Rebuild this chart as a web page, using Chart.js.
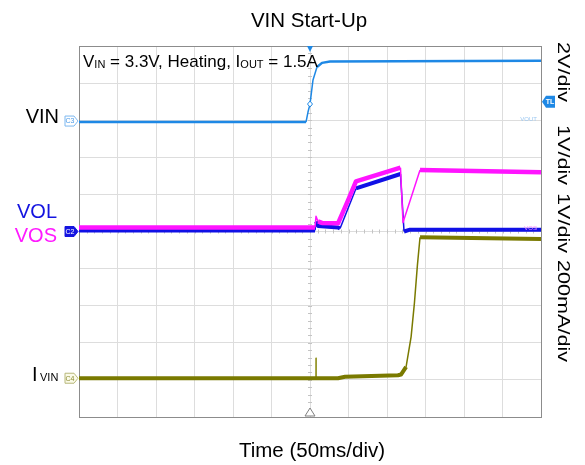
<!DOCTYPE html>
<html>
<head>
<meta charset="utf-8">
<script src="https://cdn.jsdelivr.net/npm/chart.js@4.4.1/dist/chart.umd.min.js"></script>
<style>
  html, body { margin: 0; padding: 0; background: #fff; }
  #wrap { width: 585px; height: 465px; }
</style>
</head>
<body>
<div id="wrap"><canvas id="scope" width="585" height="465"></canvas></div>
<script>
// time in ms (50ms/div, trigger at 0)
const vinTime  = [-300, -5.2, -2.6, 0, 3.9, 9.1, 15.6, 26, 300]
const vinVolts = [0, 0, 0.54, 0.97, 2.27, 2.97, 3.19, 3.27, 3.3]

const vosTime  = [-300, 6.5, 7.8, 10.4, 15.6, 36.4, 49.4, 59.7, 117.5, 120.8, 142.9, 300]
const vosVolts = [0.11, 0.11, 0.41, 0.27, 0.23, 0.22, 0.84, 1.35, 1.72, 0.24, 1.66, 1.6]

const volTime  = [-300, 6.5, 7.8, 10.4, 36.4, 39, 59.7, 117.5, 122.1, 129.9, 300]
const volVolts = [0.03, 0.03, 0.27, 0.15, 0.11, 0.08, 1.16, 1.55, 0, 0.05, 0.05]

const ivinTime = [-300, 36.4, 45.5, 114.3, 118.2, 124.8, 131.3, 135.6, 139.5, 142.9, 300]
const ivinAmps = [0, 0, 0.008, 0.016, 0.02, 0.061, 0.223, 0.405, 0.61, 0.76, 0.75]

// short glitch on the input current at the trigger
const spikeTime = [7.4, 7.8, 8.2]
const spikeAmps = [0, 0.11, 0]

const rightLabels = ["2V/div", "1V/div", "1V/div", "200mA/div"]

const pts = (xs, ys) => xs.map((x, i) => ({ x: x, y: ys[i] }))

// steep edges are drawn thin, like on the scope
const edgeWidth = (flat) => (c) => {
  const dx = Math.abs(c.p1.x - c.p0.x)
  const dy = Math.abs(c.p1.y - c.p0.y)
  return dy > 2.5 * dx ? 1.5 : flat
}

const font = (size) => size + 'px "Liberation Sans", Arial, sans-serif'

const scopeDecor = {
  id: 'scopeDecor',
  beforeDatasetsDraw(chart) {
    const { ctx, chartArea: a, scales } = chart
    const cx = scales.x.getPixelForValue(0)
    const cy = scales.yDiv.getPixelForValue(0)
    ctx.save()
    ctx.strokeStyle = '#c4c4c4'
    ctx.lineWidth = 1
    // minor ticks on the centre lines
    for (let v = -300; v <= 300; v += 10) {
      const px = Math.round(scales.x.getPixelForValue(v)) + 0.5
      ctx.beginPath(); ctx.moveTo(px, cy - 2); ctx.lineTo(px, cy + 2); ctx.stroke()
    }
    for (let d = -5; d <= 5; d += 0.2) {
      const py = Math.round(scales.yDiv.getPixelForValue(d)) + 0.5
      ctx.beginPath(); ctx.moveTo(cx - 2, py); ctx.lineTo(cx + 2, py); ctx.stroke()
    }
    ctx.strokeStyle = '#8c8c8c'
    ctx.strokeRect(Math.round(a.left) + 0.5, Math.round(a.top) + 0.5, Math.round(a.width), Math.round(a.height))
    ctx.restore()
  },
  afterDraw(chart) {
    const { ctx, chartArea: a, scales } = chart
    const cx = scales.x.getPixelForValue(0)
    ctx.save()
    ctx.fillStyle = '#000'
    ctx.textBaseline = 'alphabetic'
    ctx.font = font(20.5)
    ctx.textAlign = 'center'
    ctx.fillText('VIN Start-Up', 309, 27)
    ctx.fillText('Time (50ms/div)', 312, 457)

    // channel names on the left
    ctx.font = font(20)
    ctx.textAlign = 'right'
    ctx.fillText('VIN', 59, 123)
    ctx.fillStyle = '#1414e0'
    ctx.fillText('VOL', 57, 218)
    ctx.fillStyle = '#ff1aff'
    ctx.fillText('VOS', 57, 242)
    ctx.fillStyle = '#000'
    ctx.textAlign = 'left'
    ctx.fillText('I', 32, 381)
    ctx.font = font(11)
    ctx.fillText('VIN', 40, 381)

    // test condition
    let x = 83
    const y = 67
    const seg = (t, size, dy) => {
      ctx.font = font(size)
      ctx.fillText(t, x, y + dy)
      x += ctx.measureText(t).width
    }
    seg('V', 17, 0); seg('IN', 11, 1); seg(' = 3.3V, Heating, I', 17, 0); seg('OUT', 11, 1); seg(' = 1.5A', 17, 0)

    // volts/div labels, rotated and stretched along the reading direction
    ctx.translate(558, 0)
    ctx.rotate(Math.PI / 2)
    ctx.scale(1.27, 1)
    ctx.font = font(17)
    ctx.fillStyle = '#000'
    const starts = [42, 125, 193, 260]
    rightLabels.forEach((t, i) => ctx.fillText(t, starts[i] / 1.27, 0))
    ctx.restore()

    // channel markers
    const marker = (yPix, label, fill, stroke, text) => {
      ctx.save()
      ctx.beginPath()
      ctx.moveTo(65, yPix - 5); ctx.lineTo(74, yPix - 5); ctx.lineTo(78, yPix)
      ctx.lineTo(74, yPix + 5); ctx.lineTo(65, yPix + 5); ctx.closePath()
      if (fill) { ctx.fillStyle = fill; ctx.fill() }
      ctx.strokeStyle = stroke; ctx.lineWidth = 1; ctx.stroke()
      ctx.fillStyle = text
      ctx.font = font(7)
      ctx.textAlign = 'center'; ctx.textBaseline = 'middle'
      ctx.fillText(label, 70, yPix + 0.5)
      ctx.restore()
    }
    marker(scales.yVin.getPixelForValue(0) - 1, 'C3', null, '#7db8f0', '#4a9ae8')
    marker(scales.yVo.getPixelForValue(0), 'C2', '#1414e0', '#1414e0', '#fff')
    marker(scales.yI.getPixelForValue(0), 'C4', '#fafae8', '#b8b87a', '#8a8a30')

    // trigger level marker on the right
    const ty = scales.yVin.getPixelForValue(1.1)
    ctx.save()
    ctx.beginPath()
    ctx.moveTo(542, ty); ctx.lineTo(546, ty - 6); ctx.lineTo(555, ty - 6)
    ctx.lineTo(555, ty + 6); ctx.lineTo(546, ty + 6); ctx.closePath()
    ctx.fillStyle = '#1e88e5'; ctx.fill()
    ctx.fillStyle = '#fff'
    ctx.font = 'bold ' + font(7)
    ctx.textAlign = 'center'; ctx.textBaseline = 'middle'
    ctx.fillText('TL', 550, ty + 0.5)
    // faint trace tags
    ctx.font = font(6)
    ctx.textAlign = 'right'
    ctx.fillStyle = '#9cc8f2'
    ctx.fillText('VOUT', 537, scales.yVin.getPixelForValue(0) - 3)
    ctx.fillStyle = '#ff8cff'
    ctx.fillText('VOS', 537, scales.yVo.getPixelForValue(0) - 3)

    // trigger position markers
    ctx.beginPath()
    ctx.moveTo(cx - 3, a.top); ctx.lineTo(cx + 3, a.top); ctx.lineTo(cx, a.top + 6); ctx.closePath()
    ctx.fillStyle = '#1e88e5'; ctx.fill()
    ctx.beginPath()
    ctx.moveTo(cx - 5, a.bottom - 1); ctx.lineTo(cx + 5, a.bottom - 1); ctx.lineTo(cx, a.bottom - 9); ctx.closePath()
    ctx.fillStyle = '#fff'; ctx.fill()
    ctx.strokeStyle = '#808080'; ctx.stroke()
    // trigger point diamond
    const dy = scales.yVin.getPixelForValue(0.97)
    ctx.beginPath()
    ctx.moveTo(cx, dy - 3); ctx.lineTo(cx + 2.5, dy); ctx.lineTo(cx, dy + 3); ctx.lineTo(cx - 2.5, dy); ctx.closePath()
    ctx.fillStyle = '#fff'; ctx.fill()
    ctx.strokeStyle = '#1e88e5'; ctx.stroke()
    ctx.restore()
  }
}

new Chart(document.getElementById('scope'), {
  type: 'line',
  data: {
    datasets: [
      { label: 'IVIN', data: pts(ivinTime, ivinAmps), yAxisID: 'yI', borderColor: '#7a7a00', borderWidth: 4, segment: { borderWidth: edgeWidth(4) } },
      { label: 'IVIN glitch', data: pts(spikeTime, spikeAmps), yAxisID: 'yI', borderColor: '#9a9a30', borderWidth: 1 },
      { label: 'VIN', data: pts(vinTime, vinVolts), yAxisID: 'yVin', borderColor: '#1e88e5', borderWidth: 2.5, segment: { borderWidth: edgeWidth(2.5) } },
      { label: 'VOS', data: pts(vosTime, vosVolts), yAxisID: 'yVo', borderColor: '#ff14ff', borderWidth: 4.5, segment: { borderWidth: edgeWidth(4.5) } },
      { label: 'VOL', data: pts(volTime, volVolts), yAxisID: 'yVo', borderColor: '#1010e6', borderWidth: 4, segment: { borderWidth: edgeWidth(4) } }
    ]
  },
  options: {
    responsive: false,
    animation: false,
    layout: { padding: { left: 79, right: 44, top: 46, bottom: 48 } },
    elements: { point: { radius: 0 }, line: { tension: 0, borderJoinStyle: 'round', borderCapStyle: 'butt' } },
    plugins: { legend: { display: false }, tooltip: { enabled: false } },
    scales: {
      x: {
        type: 'linear', min: -300, max: 300,
        ticks: { display: false, stepSize: 50 },
        grid: { color: '#dddddd', drawTicks: false },
        border: { display: false }
      },
      yDiv: {
        position: 'left', min: -5, max: 5,
        ticks: { display: false, stepSize: 1 },
        grid: { color: '#dddddd', drawTicks: false },
        border: { display: false }
      },
      yVin: { display: false, min: -15.9, max: 4.1 },
      yVo: { display: false, min: -5, max: 5 },
      yI: { display: false, min: -0.209, max: 1.791 }
    }
  },
  plugins: [scopeDecor]
})
</script>
</body>
</html>
